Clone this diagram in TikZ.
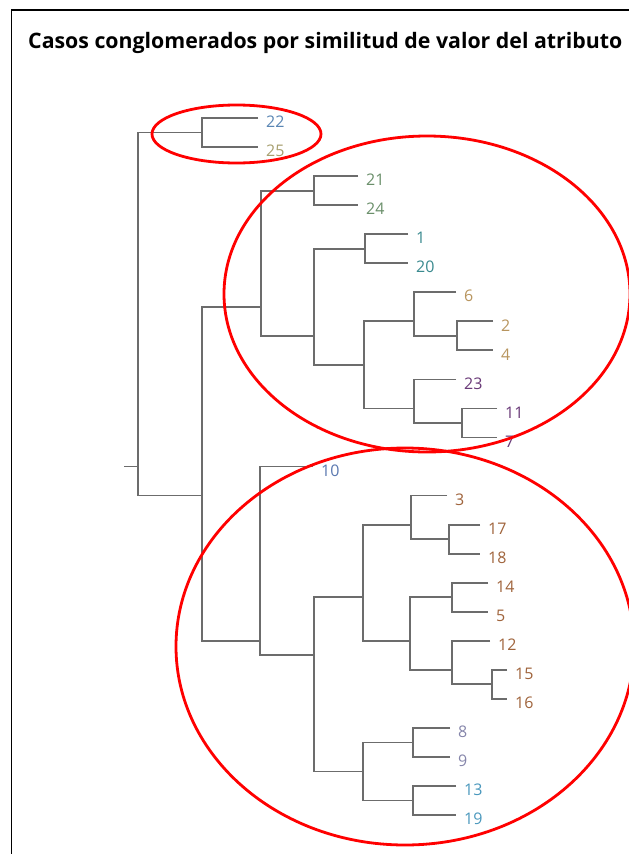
\documentclass[tikz,border=0pt]{standalone}
\usepackage{fontspec}
\setmainfont{Open Sans}
\usetikzlibrary{shapes.geometric}
\definecolor{tree}{RGB}{108,108,108}
\definecolor{cA}{RGB}{90,134,180}
\definecolor{cB}{RGB}{168,160,112}
\definecolor{cC}{RGB}{106,143,106}
\definecolor{cD}{RGB}{58,138,143}
\definecolor{cE}{RGB}{184,149,94}
\definecolor{cF}{RGB}{106,58,120}
\definecolor{cG}{RGB}{90,120,176}
\definecolor{cH}{RGB}{160,100,60}
\definecolor{cI}{RGB}{133,133,170}
\definecolor{cJ}{RGB}{74,152,189}
\tikzset{
  branch/.style={draw=tree, line width=1.8pt, line join=miter},
  lbl/.style={anchor=west, inner sep=0pt, font=\fontsize{16}{18}\selectfont},
  group/.style={draw=red, line width=2.8pt, ellipse, inner sep=0pt}
}
\newcommand{\leafnode}[5]{%
  \coordinate (l#1) at (#3,#2);
  \node[lbl, text=#4] (t#1) at ([xshift=8pt,yshift=-4pt]l#1) {#5};}
\begin{document}
\begin{tikzpicture}[x=1pt,y=-1pt]
\useasboundingbox (0,0) rectangle (629,854);
\fill[white] (0,0) rectangle (629,854);
% frame
\coordinate (fa) at (11.5,10);
\coordinate (fb) at (629,10);
\coordinate (fc) at (11.5,854);
\draw[black, line width=1.6pt] (fb) -- (fa) -- (fc);
% title
\node[anchor=base west, inner sep=0pt] (title) at (28,48)
  {\resizebox{594pt}{!}{\bfseries Casos conglomerados por similitud de valor del atributo}};
% leaves
\leafnode{22}{118.0}{258}{cA}{22}
\leafnode{25}{147.0}{258}{cB}{25}
\leafnode{21}{176.1}{358}{cC}{21}
\leafnode{24}{205.1}{358}{cC}{24}
\leafnode{01}{234.2}{408}{cD}{1}
\leafnode{20}{263.2}{408}{cD}{20}
\leafnode{06}{292.2}{456}{cE}{6}
\leafnode{02}{321.3}{493}{cE}{2}
\leafnode{04}{350.3}{493}{cE}{4}
\leafnode{23}{379.4}{456}{cF}{23}
\leafnode{11}{408.4}{497}{cF}{11}
\leafnode{07}{437.4}{497}{cF}{7}
\leafnode{10}{466.5}{313}{cG}{10}
\leafnode{03}{495.5}{447}{cH}{3}
\leafnode{17}{524.6}{480}{cH}{17}
\leafnode{18}{553.6}{480}{cH}{18}
\leafnode{14}{582.6}{488}{cH}{14}
\leafnode{05}{611.7}{488}{cH}{5}
\leafnode{12}{640.7}{490}{cH}{12}
\leafnode{15}{669.8}{507}{cH}{15}
\leafnode{16}{698.8}{507}{cH}{16}
\leafnode{08}{727.8}{450}{cI}{8}
\leafnode{09}{756.9}{450}{cI}{9}
\leafnode{13}{785.9}{456}{cJ}{13}
\leafnode{19}{815.0}{456}{cJ}{19}
% internal junctions
\coordinate (nA) at (202,132.5);   % 22,25
\coordinate (nB) at (314,190.6);   % 21,24
\coordinate (nC) at (365,248.7);   % 1,20
\coordinate (nD) at (457,335.8);   % 2,4
\coordinate (nE) at (414,321.3);   % 6,(2,4)
\coordinate (nF) at (462,422.9);   % 11,7
\coordinate (nG) at (414,408.4);   % 23,(11,7)
\coordinate (nH) at (364,364.8);
\coordinate (nI) at (314,335.8);
\coordinate (nJ) at (261,306.8);
\coordinate (nK) at (449,539.1);   % 17,18
\coordinate (nL) at (411,524.6);   % 3,(17,18)
\coordinate (nM) at (452,597.2);   % 14,5
\coordinate (nN) at (492,684.3);   % 15,16
\coordinate (nO) at (452,669.8);   % 12,(15,16)
\coordinate (nP) at (410,640.7);
\coordinate (nQ) at (363,597.2);
\coordinate (nR) at (413,742.4);   % 8,9
\coordinate (nS) at (413,800.4);   % 13,19
\coordinate (nT) at (363,771.4);
\coordinate (nU) at (314,655.2);
\coordinate (nV) at (260,640.7);
\coordinate (nW) at (202,495.5);
\coordinate (nRoot) at (138,466.5);
\coordinate (stub) at (124,466.5);
% brackets
\draw[branch] (l22) -| (nA) |- (l25);
\draw[branch] (l21) -| (nB) |- (l24);
\draw[branch] (l01) -| (nC) |- (l20);
\draw[branch] (l02) -| (nD) |- (l04);
\draw[branch] (l06) -| (nE) |- (nD);
\draw[branch] (l11) -| (nF) |- (l07);
\draw[branch] (l23) -| (nG) |- (nF);
\draw[branch] (nE) -| (nH) |- (nG);
\draw[branch] (nC) -| (nI) |- (nH);
\draw[branch] (nB) -| (nJ) |- (nI);
\draw[branch] (l17) -| (nK) |- (l18);
\draw[branch] (l03) -| (nL) |- (nK);
\draw[branch] (l14) -| (nM) |- (l05);
\draw[branch] (l15) -| (nN) |- (l16);
\draw[branch] (l12) -| (nO) |- (nN);
\draw[branch] (nM) -| (nP) |- (nO);
\draw[branch] (nL) -| (nQ) |- (nP);
\draw[branch] (l08) -| (nR) |- (l09);
\draw[branch] (l13) -| (nS) |- (l19);
\draw[branch] (nR) -| (nT) |- (nS);
\draw[branch] (nQ) -| (nU) |- (nT);
\draw[branch] (l10) -| (nV) |- (nU);
\draw[branch] (nJ) -| (nW) |- (nV);
\draw[branch] (nA) -| (nRoot) |- (nW);
\draw[branch] (stub) -- (nRoot);
% red cluster ellipses
\node[group, minimum width=169pt, minimum height=58pt] (e1) at (236.5,134) {};
\node[group, minimum width=406pt, minimum height=316pt] (e2) at (427,294) {};
\node[group, minimum width=458pt, minimum height=397pt] (e3) at (405,646.5) {};
\end{tikzpicture}
\end{document}
